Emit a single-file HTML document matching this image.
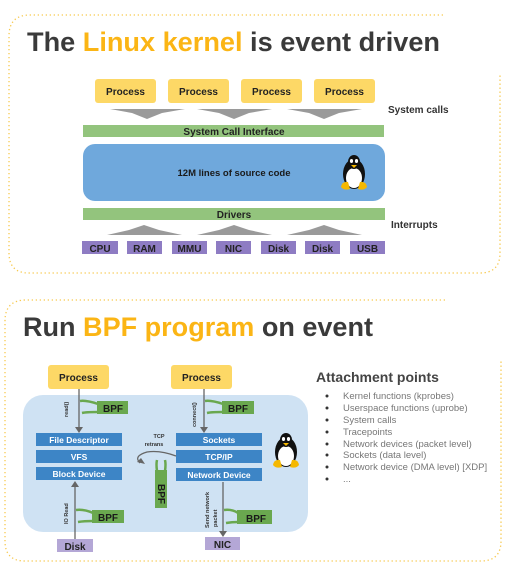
<!DOCTYPE html>
<html><head><meta charset="utf-8"><style>
html,body{margin:0;padding:0;background:#fff;width:521px;height:587px;overflow:hidden}
svg{display:block;font-family:"Liberation Sans",sans-serif}
</style></head><body>
<svg width="521" height="587" viewBox="0 0 521 587" xmlns="http://www.w3.org/2000/svg">
<defs>
<g id="peng">
<ellipse cx="14" cy="20" rx="11" ry="15" fill="#111"/>
<ellipse cx="14" cy="24" rx="8" ry="10" fill="#fff"/>
<ellipse cx="14" cy="8" rx="6" ry="7" fill="#111"/>
<ellipse cx="11.5" cy="7" rx="1.6" ry="2" fill="#fff"/>
<ellipse cx="16.5" cy="7" rx="1.6" ry="2" fill="#fff"/>
<path d="M11 11 L17 11 L14 14 Z" fill="#f5b800"/>
<path d="M1 33 Q2 27 8 28 L10 35 Q4 37 1 33Z" fill="#f5b800"/>
<path d="M27 33 Q26 27 20 28 L18 35 Q24 37 27 33Z" fill="#f5b800"/>
</g>
</defs>
<g fill="none" stroke="#f7c94f" stroke-width="1.3" stroke-dasharray="1.3 2.7">
<path d="M443 15 L30 15 Q9 15 9 36 L9 253 Q9 273 29 273 L480 273 Q500 273 500 253 L500 75"/>
<path d="M445 300 L26 300 Q5 300 5 321 L5 541 Q5 561 25 561 L481 561 Q501 561 501 541 L501 360"/>
</g>
<text x="27" y="51" font-size="27" font-weight="bold" fill="#3a3a3a" textLength="413" lengthAdjust="spacingAndGlyphs">The <tspan fill="#fbb515">Linux kernel</tspan> is event driven</text>
<g fill="#fdd866">
<rect x="95" y="79" width="61" height="24" rx="3"/><rect x="168" y="79" width="61" height="24" rx="3"/>
<rect x="241" y="79" width="61" height="24" rx="3"/><rect x="314" y="79" width="61" height="24" rx="3"/>
</g>
<g font-size="10" font-weight="bold" fill="#222" text-anchor="middle">
<text x="125.5" y="95">Process</text><text x="198.5" y="95">Process</text><text x="271.5" y="95">Process</text><text x="344.5" y="95">Process</text>
</g>
<g fill="#9a9a9a">
<path d="M110 109 L185 109 L162 113 L147 119 L132 113Z"/>
<path d="M197 109 L272 109 L249 113 L234 119 L219 113Z"/>
<path d="M287 109 L362 109 L339 113 L324 119 L309 113Z"/>
<path d="M107 235 L182 235 L159 230 L144 225 L129 230Z"/>
<path d="M197 235 L272 235 L249 230 L234 225 L219 230Z"/>
<path d="M287 235 L362 235 L339 230 L324 225 L309 230Z"/>
</g>
<text x="388" y="113" font-size="10" font-weight="bold" fill="#333">System calls</text>
<rect x="83" y="125" width="301" height="12" fill="#93c47d"/>
<text x="234" y="135" font-size="10" font-weight="bold" fill="#222" text-anchor="middle">System Call Interface</text>
<rect x="83" y="144" width="302" height="57" rx="12" fill="#6fa8dc"/>
<text x="234" y="176" font-size="9.5" font-weight="bold" fill="#1a1a1a" text-anchor="middle">12M lines of source code</text>
<use href="#peng" x="340" y="154"/>
<rect x="83" y="208" width="302" height="12" fill="#93c47d"/>
<text x="234" y="218" font-size="10" font-weight="bold" fill="#222" text-anchor="middle">Drivers</text>
<text x="391" y="228" font-size="10" font-weight="bold" fill="#333">Interrupts</text>
<g fill="#8e7cc3">
<rect x="82" y="241" width="36" height="13"/><rect x="127" y="241" width="35" height="13"/><rect x="172" y="241" width="35" height="13"/>
<rect x="216" y="241" width="35" height="13"/><rect x="261" y="241" width="35" height="13"/><rect x="305" y="241" width="35" height="13"/><rect x="350" y="241" width="35" height="13"/>
</g>
<g font-size="10" font-weight="bold" fill="#222" text-anchor="middle">
<text x="100" y="252">CPU</text><text x="144.5" y="252">RAM</text><text x="189.5" y="252">MMU</text><text x="233.5" y="252">NIC</text>
<text x="278.5" y="252">Disk</text><text x="322.5" y="252">Disk</text><text x="367.5" y="252">USB</text>
</g>

<text x="23" y="336" font-size="27" font-weight="bold" fill="#3a3a3a" textLength="350" lengthAdjust="spacingAndGlyphs">Run <tspan fill="#fbb515">BPF program</tspan> on event</text>
<rect x="23" y="395" width="285" height="137" rx="20" fill="#cfe2f3"/>
<rect x="48" y="365" width="61" height="24" rx="3" fill="#fdd866"/>
<rect x="171" y="365" width="61" height="24" rx="3" fill="#fdd866"/>
<text x="78.5" y="381" font-size="10" font-weight="bold" fill="#222" text-anchor="middle">Process</text>
<text x="201.5" y="381" font-size="10" font-weight="bold" fill="#222" text-anchor="middle">Process</text>
<g fill="#3d85c6">
<rect x="36" y="433" width="86" height="13"/><rect x="36" y="450" width="86" height="13"/><rect x="36" y="467" width="86" height="13"/>
<rect x="176" y="433" width="86" height="13"/><rect x="176" y="450" width="86" height="13"/><rect x="176" y="468" width="86" height="13"/>
</g>
<g font-size="8.5" font-weight="bold" fill="#fff" text-anchor="middle">
<text x="79" y="443">File Descriptor</text><text x="79" y="460">VFS</text><text x="79" y="477">Block Device</text>
<text x="219" y="443">Sockets</text><text x="219" y="460">TCP/IP</text><text x="219" y="478">Network Device</text>
</g>
<g stroke="#666" stroke-width="1.3" fill="#666">
<line x1="79" y1="389" x2="79" y2="428"/><path d="M75 427 L83 427 L79 433Z" stroke="none"/>
<line x1="204" y1="389" x2="204" y2="428"/><path d="M200 427 L208 427 L204 433Z" stroke="none"/>
<line x1="75" y1="540" x2="75" y2="486"/><path d="M71 487 L79 487 L75 481Z" stroke="none"/>
<line x1="223" y1="482" x2="223" y2="532"/><path d="M219 531 L227 531 L223 537Z" stroke="none"/>
<path d="M176 456 Q160 450 147 452 Q133 456 140 463" fill="none"/><path d="M137 462 L145 464 L141 458Z" stroke="none"/>
</g>
<g fill="#6aa84f">
<rect x="97" y="401" width="31" height="13"/><rect x="222" y="401" width="32" height="13"/>
<rect x="92" y="510" width="32" height="13"/><rect x="237" y="510" width="35" height="14"/>
<rect x="155" y="470" width="12" height="38"/>
</g>
<g fill="none" stroke="#6aa84f" stroke-width="2.5">
<path d="M80 401 Q86 400 98 404"/><path d="M98 412 Q86 412 82 413"/>
<path d="M205 401 Q211 400 223 404"/><path d="M223 412 Q211 412 207 413"/>
<path d="M76 510 Q84 509 93 513"/><path d="M93 521 Q84 521 78 522"/>
<path d="M224 510 Q232 509 238 513"/><path d="M238 522 Q232 522 226 523"/>
<path d="M157 471 Q156 464 157 460"/><path d="M165 471 Q166 464 165 460"/>
</g>
<g font-size="10" font-weight="bold" fill="#1a1a1a">
<text x="103" y="412">BPF</text><text x="228" y="412">BPF</text><text x="98" y="521">BPF</text><text x="246" y="522">BPF</text>
<text transform="translate(158,484) rotate(90)" font-size="10">BPF</text>
</g>
<g font-size="5.5" font-weight="bold" fill="#333">
<text transform="translate(68,417) rotate(-90)">read()</text>
<text transform="translate(196,427) rotate(-90)">connect()</text>
<text transform="translate(68,524) rotate(-90)">IO Read</text>
<text transform="translate(209,528) rotate(-90)">Send network</text>
<text transform="translate(217,527) rotate(-90)">packet</text>
<text x="159" y="438" text-anchor="middle">TCP</text>
<text x="154" y="446" text-anchor="middle">retrans</text>
</g>
<use href="#peng" x="272" y="432"/>
<rect x="57" y="539" width="36" height="13" fill="#b4a7d6"/>
<rect x="205" y="537" width="35" height="13" fill="#b4a7d6"/>
<text x="75" y="550" font-size="10" font-weight="bold" fill="#222" text-anchor="middle">Disk</text>
<text x="222.5" y="548" font-size="10" font-weight="bold" fill="#222" text-anchor="middle">NIC</text>
<text x="316" y="382" font-size="14" font-weight="bold" fill="#444">Attachment points</text>
<g font-size="9.5" fill="#777">
<text x="343" y="399">Kernel functions (kprobes)</text>
<text x="343" y="411">Userspace functions (uprobe)</text>
<text x="343" y="423">System calls</text>
<text x="343" y="435">Tracepoints</text>
<text x="343" y="447">Network devices (packet level)</text>
<text x="343" y="458">Sockets (data level)</text>
<text x="343" y="470">Network device (DMA level) [XDP]</text>
<text x="343" y="482">...</text>
</g>
<g fill="#333">
<circle cx="327" cy="396" r="1.5"/><circle cx="327" cy="408" r="1.5"/><circle cx="327" cy="420" r="1.5"/><circle cx="327" cy="432" r="1.5"/>
<circle cx="327" cy="444" r="1.5"/><circle cx="327" cy="455" r="1.5"/><circle cx="327" cy="467" r="1.5"/><circle cx="327" cy="479" r="1.5"/>
</g>
</svg>
</body></html>
